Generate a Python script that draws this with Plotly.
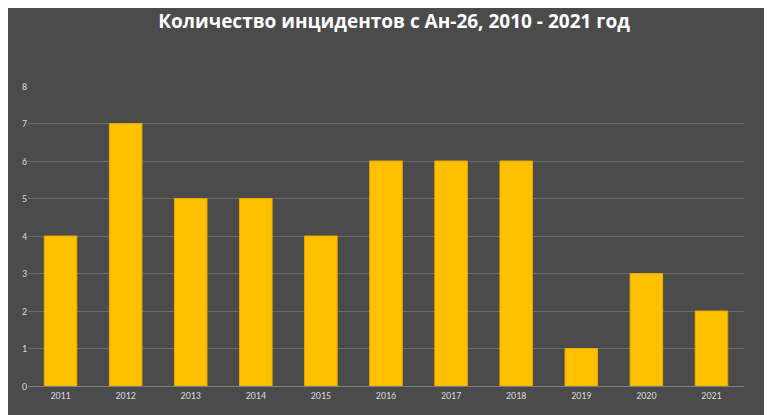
import plotly.graph_objects as go

years = ['2011', '2012', '2013', '2014', '2015', '2016', '2017', '2018', '2019', '2020', '2021']
incidents = [4, 7, 5, 5, 4, 6, 6, 6, 1, 3, 2]

fig = go.Figure()
fig.add_trace(go.Bar(x=years, y=incidents,
                     marker=dict(color='#FFC000', line=dict(color='#E6AC00', width=1))))

fig.update_layout(
    width=772, height=415,
    title=dict(text='<b>Количество инцидентов с Ан-26, 2010 - 2021 год</b>',
               x=0.5, y=0.985, yanchor='top',
               font=dict(size=19, color='white', family='Open Sans')),
    paper_bgcolor='#4b4b4b', plot_bgcolor='rgba(0,0,0,0)',
    margin=dict(l=20, r=36, t=78, b=37),
    bargap=0.5, showlegend=False,
    font=dict(family='Calibri, Liberation Sans, sans-serif', size=10, color='#d9d9d9'),
)
fig.update_xaxes(showgrid=False, showline=True, linecolor='#7f7f7f', ticks='')
fig.update_yaxes(range=[0, 8], dtick=1, gridcolor='#6a6a6a', zeroline=False, ticks='')

fig.write_html("out.html")
